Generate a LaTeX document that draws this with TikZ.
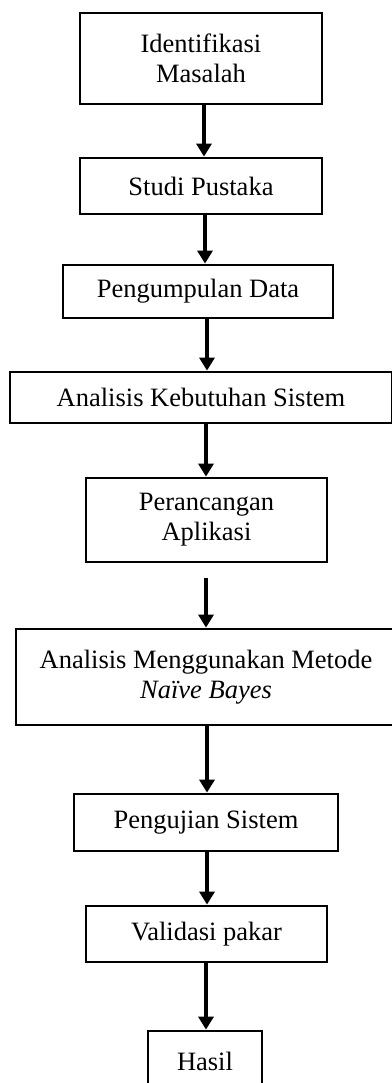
\documentclass[tikz,border=0pt]{standalone}
\usepackage{fontspec}
\setmainfont{Liberation Serif}
\usetikzlibrary{arrows.meta}
\begin{document}
\begin{tikzpicture}[x=1pt,y=-1pt,
  box/.style={draw=black,line width=2.8pt,fill=white,inner sep=0pt,align=center,
    font=\fontsize{26.5}{30}\selectfont},
  arr/.style={line width=4.2pt,-{Triangle[width=15pt,length=13pt]}}]
\useasboundingbox (0,0) rectangle (391,1083);
\node[box,minimum width=242,minimum height=91] (b1) at (201,58.5) {Identifikasi\\Masalah};
\node[box,minimum width=242,minimum height=56] (b2) at (201,186) {Studi Pustaka};
\node[box,minimum width=270,minimum height=53] (b3) at (198,291.5) {Pengumpulan Data};
\node[box,minimum width=382,minimum height=51] (b4) at (201,397.5) {Analisis Kebutuhan Sistem};
\node[box,minimum width=241,minimum height=84] (b5) at (206.5,520) {Perancangan\\Aplikasi};
\node[box,minimum width=380,minimum height=96] (b6) at (206,677) {Analisis Menggunakan Metode\\\textit{Naïve Bayes}};
\node[box,minimum width=264,minimum height=57] (b7) at (206,822.5) {Pengujian Sistem};
\node[box,minimum width=241,minimum height=56] (b8) at (206.5,934) {Validasi pakar};
\node[box,minimum width=114,minimum height=60] (b9) at (205,1061) {Hasil};
\coordinate (c5) at (206,578);
\draw[arr] ([xshift=3pt]b1.south) -- ([xshift=3pt]b2.north);
\draw[arr] ([xshift=4pt]b2.south) -- ([xshift=7pt]b3.north);
\draw[arr] ([xshift=9pt]b3.south) -- ([xshift=6pt]b4.north);
\draw[arr] ([xshift=5pt]b4.south) -- ([xshift=-0.5pt]b5.north);
\draw[arr] (c5) -- (b6.north);
\draw[arr] ([xshift=1pt]b6.south) -- ([xshift=1pt]b7.north);
\draw[arr] ([xshift=1pt]b7.south) -- ([xshift=0.5pt]b8.north);
\draw[arr] ([xshift=-0.5pt]b8.south) -- ([xshift=1pt]b9.north);
\end{tikzpicture}
\end{document}
